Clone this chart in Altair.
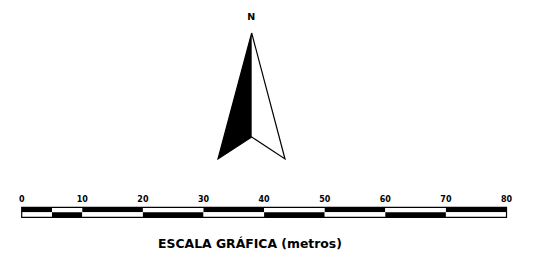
import altair as alt
import pandas as pd

# ---- data ----
tick_values = [0, 10, 20, 30, 40, 50, 60, 70, 80]
seg_edges = [0, 5, 10, 20, 30, 40, 50, 60, 70, 80]
upper_colors = ["black", "white", "black", "white", "black", "white", "black", "white", "black"]
lower_colors = ["white", "black", "white", "black", "white", "black", "white", "black", "white"]
title_text = "ESCALA GRÁFICA (metros)"
north_label = "N"

# north arrow outline (tip, left foot, notch, right foot, tip)
arrow_x = [37.95, 32.39, 37.95, 43.45, 37.95]
arrow_y = [25, 151, 129, 151, 25]
# black left half as a horizontal area
black_y = [25, 129, 151]
black_x = [37.95, 33.37, 32.39]
black_x2 = [37.95, 37.95, 32.39]

# ---- layout ----
W, H = 523, 247
X = alt.Scale(domain=[-2.261, 84.04], nice=False, zero=False)
Y = alt.Scale(domain=[0, H], reverse=True, nice=False, zero=False)
bar_top, bar_mid, bar_bot = 199.3, 204.3, 209.3
label_y = 191.5
title_x, title_y = 37.67, 236
north_x, north_y = 37.87, 8.5
FONT = "DejaVu Sans"

segs = []
for i in range(len(seg_edges) - 1):
    segs.append(dict(x=seg_edges[i], x2=seg_edges[i + 1], y=bar_top, y2=bar_mid, c=upper_colors[i]))
    segs.append(dict(x=seg_edges[i], x2=seg_edges[i + 1], y=bar_mid, y2=bar_bot, c=lower_colors[i]))
seg_df = pd.DataFrame(segs)

bars = alt.Chart(seg_df).mark_rect(strokeWidth=0).encode(
    x=alt.X("x:Q", scale=X, axis=None),
    x2="x2:Q",
    y=alt.Y("y:Q", scale=Y, axis=None),
    y2="y2:Q",
    fill=alt.Fill("c:N", scale=None),
)

frame_df = pd.DataFrame([dict(x=seg_edges[0], x2=seg_edges[-1], y=bar_top, y2=bar_bot)])
frame = alt.Chart(frame_df).mark_rect(fill=None, stroke="black", strokeWidth=1.2).encode(
    x=alt.X("x:Q", scale=X, axis=None), x2="x2:Q",
    y=alt.Y("y:Q", scale=Y, axis=None), y2="y2:Q",
)

lab_df = pd.DataFrame(dict(x=tick_values, t=[str(v) for v in tick_values], y=[label_y] * len(tick_values)))
labels = alt.Chart(lab_df).mark_text(
    font=FONT, fontWeight="bold", fontSize=8, color="black",
    align="center", baseline="middle",
).encode(
    x=alt.X("x:Q", scale=X, axis=None), y=alt.Y("y:Q", scale=Y, axis=None), text="t:N"
)

title_df = pd.DataFrame(dict(x=[title_x], y=[title_y], t=[title_text]))
title = alt.Chart(title_df).mark_text(
    font=FONT, fontWeight="bold", fontSize=12.4, color="black",
    align="center", baseline="middle",
).encode(x=alt.X("x:Q", scale=X, axis=None), y=alt.Y("y:Q", scale=Y, axis=None), text="t:N")

n_df = pd.DataFrame(dict(x=[north_x], y=[north_y], t=[north_label]))
north = alt.Chart(n_df).mark_text(
    font=FONT, fontWeight="bold", fontSize=9.5, color="black",
    align="center", baseline="middle",
).encode(x=alt.X("x:Q", scale=X, axis=None), y=alt.Y("y:Q", scale=Y, axis=None), text="t:N")

blk_df = pd.DataFrame(dict(y=black_y, x=black_x, x2=black_x2))
black_half = alt.Chart(blk_df).mark_area(orient="horizontal", color="black", interpolate="linear").encode(
    y=alt.Y("y:Q", scale=Y, axis=None),
    x=alt.X("x:Q", scale=X, axis=None),
    x2="x2:Q",
)

out_df = pd.DataFrame(dict(x=arrow_x, y=arrow_y, o=list(range(len(arrow_x)))))
outline = alt.Chart(out_df).mark_line(color="black", strokeWidth=1.2, strokeJoin="miter").encode(
    x=alt.X("x:Q", scale=X, axis=None),
    y=alt.Y("y:Q", scale=Y, axis=None),
    order="o:Q",
)

chart = alt.layer(bars, frame, labels, title, north, black_half, outline).properties(
    width=W, height=H, autosize=alt.AutoSizeParams(type="none"), padding=0,
    background="white",
).configure_view(stroke=None)

chart.save("out.html", embed_options={"renderer": "svg", "actions": False})
